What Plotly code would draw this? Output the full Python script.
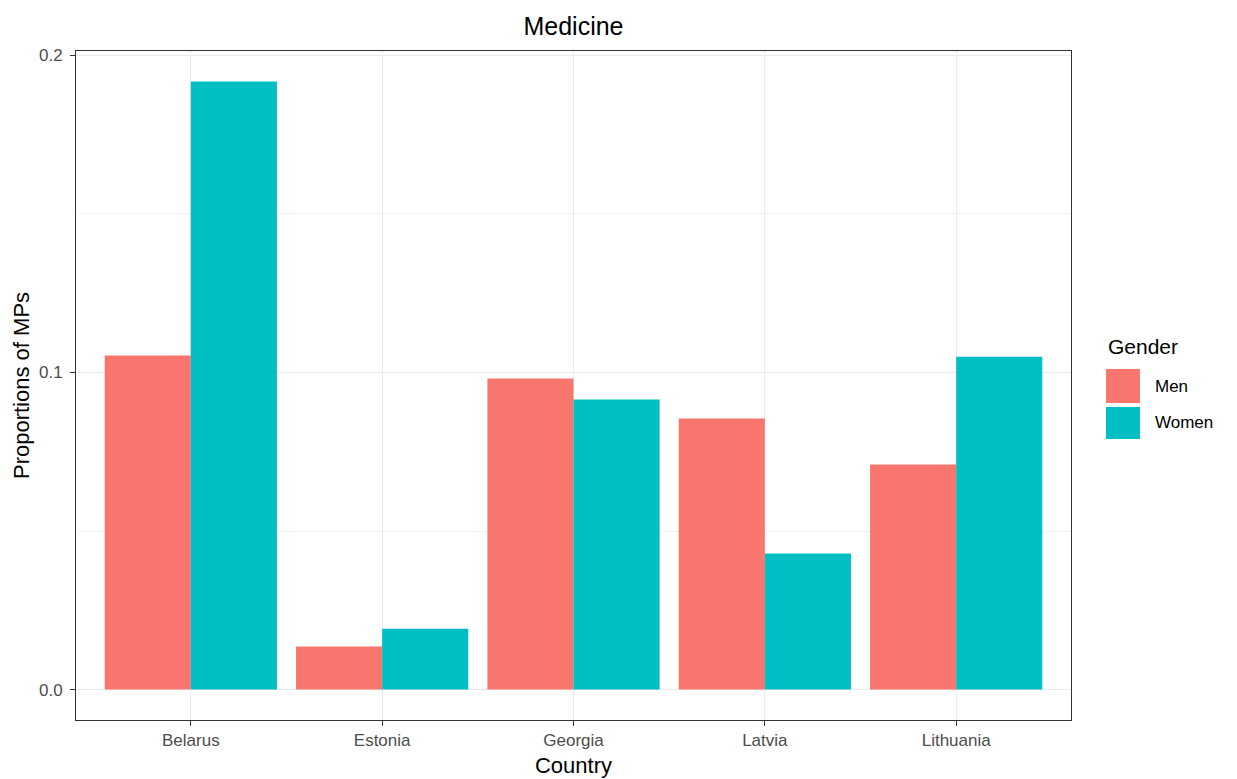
import plotly.graph_objects as go

countries = ["Belarus", "Estonia", "Georgia", "Latvia", "Lithuania"]
men = [0.1054, 0.0136, 0.0981, 0.0855, 0.0710]
women = [0.1918, 0.0192, 0.0915, 0.0429, 0.1050]
genders = ["Men", "Women"]
colors = ["#F8766D", "#00BFC4"]
y_ticks = [0.0, 0.1, 0.2]
y_tick_labels = ["0.0", "0.1", "0.2"]

FONT = "Liberation Sans, Arial, sans-serif"

fig = go.Figure()
for name, vals, col in zip(genders, [men, women], colors):
    fig.add_trace(go.Bar(x=countries, y=vals, name=name,
                         marker=dict(color=col, line=dict(width=0)), showlegend=False))

# ggplot-style legend with large square keys
shapes = []
annotations = []
key_y = [(0.5247, 0.4738), (0.4679, 0.4200)]
for (y1, y0), name, col in zip(key_y, genders, colors):
    shapes.append(dict(type="rect", xref="paper", yref="paper", x0=1.0352, x1=1.0693,
                       y0=y0, y1=y1, fillcolor=col, line=dict(width=0)))
    annotations.append(dict(text=name, xref="paper", yref="paper", x=1.0824, y=(y0 + y1) / 2,
                            xanchor="left", yanchor="middle", showarrow=False,
                            font=dict(family=FONT, size=17, color="black")))
annotations.append(dict(text="Gender", xref="paper", yref="paper", x=1.0352, y=0.559,
                        xanchor="left", yanchor="middle", showarrow=False,
                        font=dict(family=FONT, size=21, color="black")))

fig.update_layout(
    width=1237, height=779,
    barmode="group", bargap=0.1, bargroupgap=0,
    plot_bgcolor="white", paper_bgcolor="white",
    margin=dict(l=68, r=174, t=43, b=67),
    title=dict(text="Medicine", x=0.5, xref="paper", xanchor="center", y=0.977, yanchor="middle",
               font=dict(family=FONT, size=25, color="black")),
    font=dict(family=FONT),
    shapes=shapes, annotations=annotations,
    showlegend=False,
)
fig.update_xaxes(
    range=[-0.6, 4.6], showgrid=True, gridcolor="#EBEBEB", gridwidth=1,
    showline=True, linecolor="#333333", linewidth=1, mirror=True,
    ticks="outside", ticklen=5, tickcolor="#333333",
    tickfont=dict(size=17, color="#4D4D4D"),
    title=dict(text="Country", font=dict(size=22, color="black"), standoff=8),
)
fig.update_yaxes(
    range=[-0.0096, 0.2014], tickvals=y_ticks, ticktext=y_tick_labels,
    showgrid=True, gridcolor="#EBEBEB", gridwidth=1,
    minor=dict(tickvals=[0.05, 0.15], showgrid=True, gridcolor="#F2F2F2", gridwidth=1, ticks=""),
    showline=True, linecolor="#333333", linewidth=1, mirror=True,
    ticks="outside", ticklen=5, tickcolor="#333333", ticklabelstandoff=4,
    tickfont=dict(size=17, color="#4D4D4D"), zeroline=False,
    title=dict(text="Proportions of MPs", font=dict(size=22, color="black"), standoff=3),
)

fig.write_html("out.html")
